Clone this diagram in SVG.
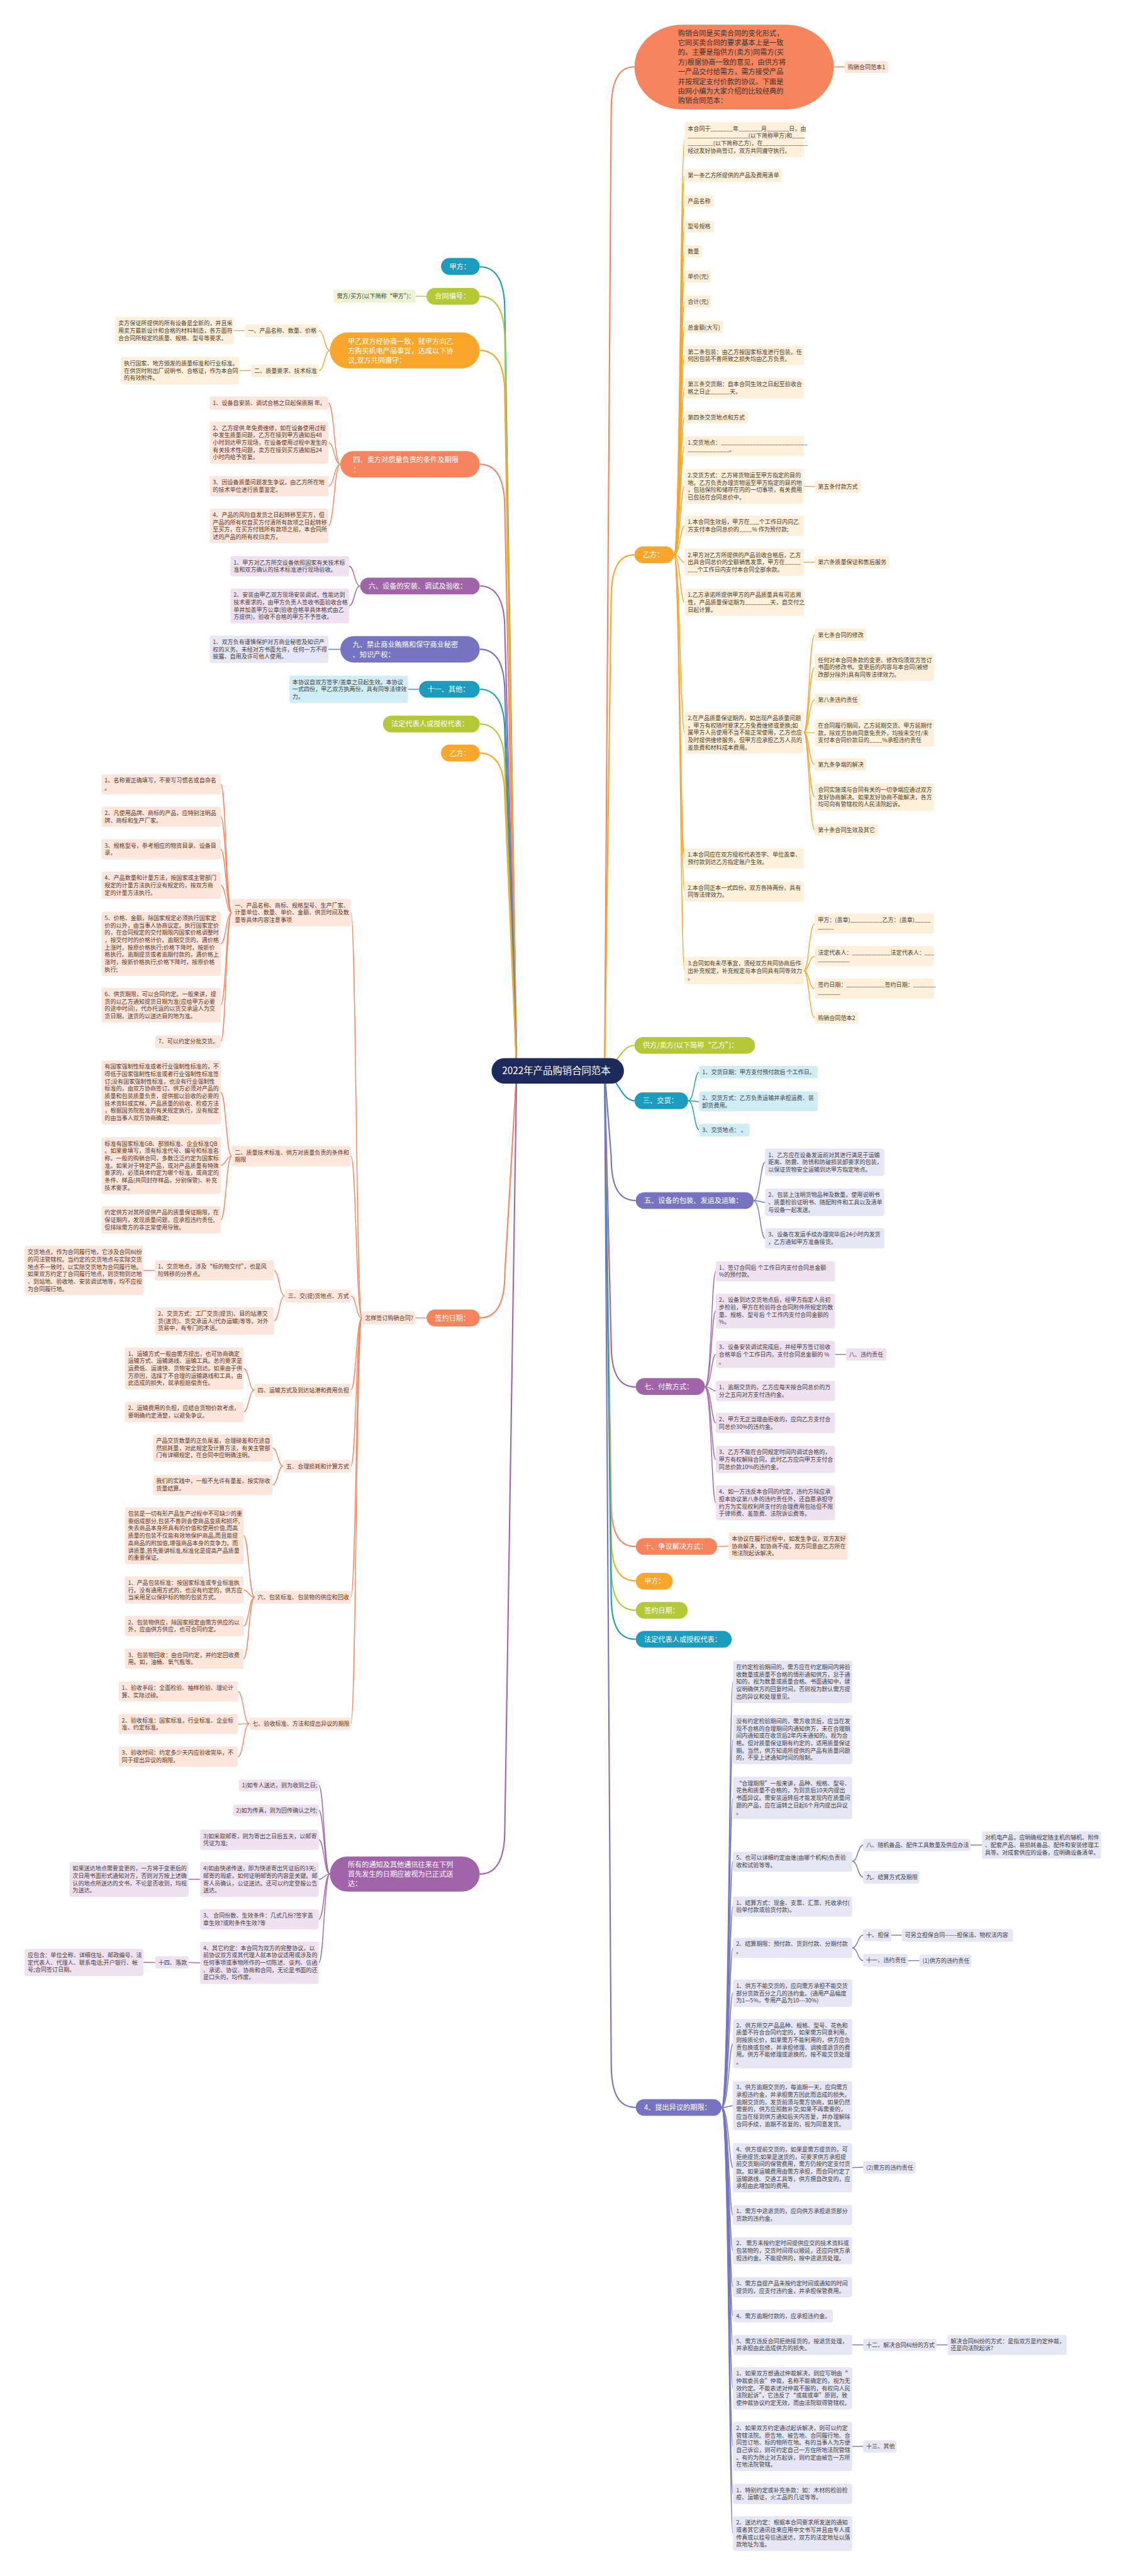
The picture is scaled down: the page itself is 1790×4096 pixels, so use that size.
<svg xmlns="http://www.w3.org/2000/svg" width="1790" height="4096" viewBox="0 0 1790 4096">
<style>
.t{font-family:"Noto Sans CJK SC","Noto Sans",sans-serif;font-size:13px;fill:#3f3f3f}
.tc{fill:#5e3626}
.ta{fill:#4a3d2c}
.h{font-family:"Noto Sans CJK SC","Noto Sans",sans-serif;font-size:16px;fill:#ffffff}
.hd{fill:#333333}
.ctr{font-family:"Noto Sans CJK SC","Noto Sans",sans-serif;font-size:22px;fill:#ffffff}
.ba{fill:#FEF0DA}.bc{fill:#FDE6DC}.bt{fill:#D0EDF5}.bg{fill:#EEF3D4}.bp{fill:#E6E6F5}.bm{fill:#F0E1F0}
.La{fill:#F9A62B}.Lc{fill:#F6845D}.Lt{fill:#1B9CBE}.Lg{fill:#B4C935}.Lp{fill:#7674C0}.Lm{fill:#A064A9}
.conn path{fill:none;stroke-width:2}
.l1 path{stroke-width:3}
.ka{stroke:#F9A62B}.kc{stroke:#F6845D}.kt{stroke:#1B9CBE}.kg{stroke:#B4C935}.kp{stroke:#7674C0}.km{stroke:#A064A9}
</style>
<rect x="0" y="0" width="1790" height="4096" fill="#ffffff"/>
<g transform="scale(0.699)">
<g id="connectors" class="conn">
<g class="l1">
<path class="kc" d="M1443,152 C1405,152 1390,187 1390,252 L1375,2436"/>
<path class="ka" d="M1443,1262 C1405,1262 1390,1297 1390,1362 L1375,2436"/>
<path class="kg" d="M1443,2378 C1410,2378 1400,2436 1370,2436"/>
<path class="kt" d="M1443,2504 C1410,2504 1400,2436 1370,2436"/>
<path class="kp" d="M1446,2731 C1405,2731 1390,2696 1390,2631 L1375,2436"/>
<path class="km" d="M1446,3155 C1405,3155 1390,3120 1390,3055 L1375,2436"/>
<path class="kc" d="M1446,3518 C1405,3518 1390,3483 1390,3418 L1375,2436"/>
<path class="ka" d="M1446,3596 C1405,3596 1390,3561 1390,3496 L1375,2436"/>
<path class="kg" d="M1446,3663 C1405,3663 1390,3628 1390,3563 L1375,2436"/>
<path class="kt" d="M1446,3729 C1405,3729 1390,3694 1390,3629 L1375,2436"/>
<path class="kp" d="M1446,4794 C1405,4794 1390,4759 1390,4694 L1375,2436"/>
<path class="kt" d="M1091,607 C1130,607 1148,642 1148,707 L1175,2436"/>
<path class="kg" d="M1091,674 C1130,674 1148,709 1148,774 L1175,2436"/>
<path class="ka" d="M1091,797 C1130,797 1148,832 1148,897 L1175,2436"/>
<path class="kc" d="M1091,1056 C1130,1056 1148,1091 1148,1156 L1175,2436"/>
<path class="km" d="M1091,1333 C1130,1333 1148,1368 1148,1433 L1175,2436"/>
<path class="kp" d="M1091,1477 C1130,1477 1148,1512 1148,1577 L1175,2436"/>
<path class="kt" d="M1091,1568 C1130,1568 1148,1603 1148,1668 L1175,2436"/>
<path class="kg" d="M1091,1647 C1130,1647 1148,1682 1148,1747 L1175,2436"/>
<path class="ka" d="M1091,1713 C1130,1713 1148,1748 1148,1813 L1175,2436"/>
<path class="kc" d="M1091,2998 C1130,2998 1148,2963 1148,2898 L1175,2436"/>
<path class="km" d="M1091,4263 C1130,4263 1148,4228 1148,4163 L1175,2436"/>
</g>
<path class="kc" d="M1896,152 L1921,152"/>
<g class="ka">
<path d="M1533,1262 C1547,1262 1547,317 1557,317"/>
<path d="M1533,1262 C1547,1262 1547,399 1557,399"/>
<path d="M1533,1262 C1547,1262 1547,457 1557,457"/>
<path d="M1533,1262 C1547,1262 1547,515 1557,515"/>
<path d="M1533,1262 C1547,1262 1547,572 1557,572"/>
<path d="M1533,1262 C1547,1262 1547,629 1557,629"/>
<path d="M1533,1262 C1547,1262 1547,686 1557,686"/>
<path d="M1533,1262 C1547,1262 1547,744 1557,744"/>
<path d="M1533,1262 C1547,1262 1547,808 1557,808"/>
<path d="M1533,1262 C1547,1262 1547,883 1557,883"/>
<path d="M1533,1262 C1547,1262 1547,949 1557,949"/>
<path d="M1533,1262 C1547,1262 1547,1015 1557,1015"/>
<path d="M1533,1262 C1547,1262 1547,1106 1557,1106"/>
<path d="M1533,1262 C1547,1262 1547,1196 1557,1196"/>
<path d="M1533,1262 C1547,1262 1547,1279 1557,1279"/>
<path d="M1533,1262 C1547,1262 1547,1370 1557,1370"/>
<path d="M1533,1262 C1547,1262 1547,1666 1557,1666"/>
<path d="M1533,1262 C1547,1262 1547,1953 1557,1953"/>
<path d="M1533,1262 C1547,1262 1547,2028 1557,2028"/>
<path d="M1533,1262 C1547,1262 1547,2208 1557,2208"/>
<path d="M1828,1106 L1853,1107"/>
<path d="M1828,1279 L1853,1279"/>
<path d="M1828,1666 C1840,1666 1840,1444 1853,1444"/>
<path d="M1828,1666 C1840,1666 1840,1518 1853,1518"/>
<path d="M1828,1666 C1840,1666 1840,1592 1853,1592"/>
<path d="M1828,1666 C1840,1666 1840,1667 1853,1667"/>
<path d="M1828,1666 C1840,1666 1840,1739 1853,1739"/>
<path d="M1828,1666 C1840,1666 1840,1813 1853,1813"/>
<path d="M1828,1666 C1840,1666 1840,1888 1853,1888"/>
<path d="M1828,2208 C1840,2208 1840,2101 1853,2101"/>
<path d="M1828,2208 C1840,2208 1840,2175 1853,2175"/>
<path d="M1828,2208 C1840,2208 1840,2249 1853,2249"/>
<path d="M1828,2208 C1840,2208 1840,2315 1853,2315"/>
<path d="M750,797 C738,797 738,752 725,752"/>
<path d="M750,797 C738,797 738,843 725,843"/>
<path d="M557,752 L532,752"/>
<path d="M571,843 L544,843"/>
</g>
<g class="kt">
<path d="M1565,2504 C1579,2504 1579,2439 1590,2439"/>
<path d="M1565,2504 C1579,2504 1579,2506 1590,2506"/>
<path d="M1565,2504 C1579,2504 1579,2570 1590,2570"/>
<path d="M953,1568 L928,1568"/>
</g>
<g class="kg">
<path d="M970,674 L945,674"/>
</g>
<g class="kp">
<path d="M1714,2731 C1729,2731 1729,2644 1740,2644"/>
<path d="M1714,2731 C1729,2731 1729,2735 1740,2735"/>
<path d="M1714,2731 C1729,2731 1729,2817 1740,2817"/>
<path d="M1641,4794 C1658,4794 1658,3826 1667,3826"/>
<path d="M1641,4794 C1658,4794 1658,3957 1667,3957"/>
<path d="M1641,4794 C1658,4794 1658,4090 1667,4090"/>
<path d="M1641,4794 C1658,4794 1658,4234 1667,4234"/>
<path d="M1641,4794 C1658,4794 1658,4337 1667,4337"/>
<path d="M1641,4794 C1658,4794 1658,4431 1667,4431"/>
<path d="M1641,4794 C1658,4794 1658,4534 1667,4534"/>
<path d="M1641,4794 C1658,4794 1658,4649 1667,4649"/>
<path d="M1641,4794 C1658,4794 1658,4790 1667,4790"/>
<path d="M1641,4794 C1658,4794 1658,4931 1667,4931"/>
<path d="M1641,4794 C1658,4794 1658,5039 1667,5039"/>
<path d="M1641,4794 C1658,4794 1658,5120 1667,5120"/>
<path d="M1641,4794 C1658,4794 1658,5203 1667,5203"/>
<path d="M1641,4794 C1658,4794 1658,5268 1667,5268"/>
<path d="M1641,4794 C1658,4794 1658,5334 1667,5334"/>
<path d="M1641,4794 C1658,4794 1658,5433 1667,5433"/>
<path d="M1641,4794 C1658,4794 1658,5565 1667,5565"/>
<path d="M1641,4794 C1658,4794 1658,5673 1667,5673"/>
<path d="M1641,4794 C1658,4794 1658,5763 1667,5763"/>
<path d="M1938,4234 C1951,4234 1951,4197 1963,4197"/>
<path d="M1938,4234 C1951,4234 1951,4270 1963,4270"/>
<path d="M1938,4431 C1951,4431 1951,4402 1963,4402"/>
<path d="M1938,4431 C1951,4431 1951,4460 1963,4460"/>
<path d="M1938,4931 L1963,4930"/>
<path d="M1938,5334 L1963,5334"/>
<path d="M1938,5565 L1963,5565"/>
<path d="M2207,4197 L2233,4197"/>
<path d="M2027,4402 L2051,4402"/>
<path d="M2065,4460 L2091,4460"/>
<path d="M2130,5334 L2155,5334"/>
<path d="M774,1477 L747,1477"/>
</g>
<g class="km">
<path d="M1603,3155 C1618,3155 1618,2892 1628,2892"/>
<path d="M1603,3155 C1618,3155 1618,2982 1628,2982"/>
<path d="M1603,3155 C1618,3155 1618,3081 1628,3081"/>
<path d="M1603,3155 C1618,3155 1618,3164 1628,3164"/>
<path d="M1603,3155 C1618,3155 1618,3237 1628,3237"/>
<path d="M1603,3155 C1618,3155 1618,3320 1628,3320"/>
<path d="M1603,3155 C1618,3155 1618,3418 1628,3418"/>
<path d="M1899,3081 L1924,3081"/>
<path d="M819,1333 C806,1333 806,1288 794,1288"/>
<path d="M819,1333 C806,1333 806,1378 794,1378"/>
<path d="M750,4263 C737,4263 737,4061 725,4061"/>
<path d="M750,4263 C737,4263 737,4118 725,4118"/>
<path d="M750,4263 C737,4263 737,4185 725,4185"/>
<path d="M750,4263 C737,4263 737,4275 725,4275"/>
<path d="M750,4263 C737,4263 737,4366 725,4366"/>
<path d="M750,4263 C737,4263 737,4465 725,4465"/>
<path d="M455,4275 L429,4275"/>
<path d="M455,4465 L429,4464"/>
<path d="M353,4464 L326,4464"/>
</g>
<g class="kc">
<path d="M1631,3518 L1657,3517"/>
<path d="M774,1056 C760,1056 760,917 747,917"/>
<path d="M774,1056 C760,1056 760,1007 747,1007"/>
<path d="M774,1056 C760,1056 760,1106 747,1106"/>
<path d="M774,1056 C760,1056 760,1196 747,1196"/>
<path d="M970,2998 L944,2998"/>
<path d="M823,2998 C810,2998 810,2076 798,2076"/>
<path d="M823,2998 C810,2998 810,2630 798,2630"/>
<path d="M823,2998 C810,2998 810,2948 798,2948"/>
<path d="M823,2998 C810,2998 810,3162 798,3162"/>
<path d="M823,2998 C810,2998 810,3335 798,3335"/>
<path d="M823,2998 C810,2998 810,3633 798,3633"/>
<path d="M823,2998 C810,2998 810,3921 798,3921"/>
<path d="M527,2076 C514,2076 514,1784 502,1784"/>
<path d="M527,2076 C514,2076 514,1858 502,1858"/>
<path d="M527,2076 C514,2076 514,1932 502,1932"/>
<path d="M527,2076 C514,2076 514,2014 502,2014"/>
<path d="M527,2076 C514,2076 514,2147 502,2147"/>
<path d="M527,2076 C514,2076 514,2286 502,2286"/>
<path d="M527,2076 C514,2076 514,2369 502,2369"/>
<path d="M527,2630 C514,2630 514,2485 502,2485"/>
<path d="M527,2630 C514,2630 514,2651 502,2651"/>
<path d="M527,2630 C514,2630 514,2775 502,2775"/>
<path d="M648,2948 C635,2948 635,2890 623,2890"/>
<path d="M648,2948 C635,2948 635,3005 623,3005"/>
<path d="M352,2890 L326,2890"/>
<path d="M579,3162 C566,3162 566,3113 554,3113"/>
<path d="M579,3162 C566,3162 566,3212 554,3212"/>
<path d="M644,3335 C632,3335 632,3294 620,3294"/>
<path d="M644,3335 C632,3335 632,3378 620,3378"/>
<path d="M579,3633 C566,3633 566,3493 554,3493"/>
<path d="M579,3633 C566,3633 566,3617 554,3617"/>
<path d="M579,3633 C566,3633 566,3699 554,3699"/>
<path d="M579,3633 C566,3633 566,3773 554,3773"/>
<path d="M567,3921 C554,3921 554,3848 541,3848"/>
<path d="M567,3921 C554,3921 554,3922 541,3922"/>
<path d="M567,3921 C554,3921 554,3996 541,3996"/>
</g>
</g>

<g id="center"><rect x="1118" y="2407" width="301" height="58" rx="29" fill="#1F2A5C"/><text class="ctr" x="1142" y="2444">2022年产品购销合同范本</text></g>

<g id="intro"><rect class="Lc" x="1443" y="56" width="453" height="193" rx="110" ry="96"/><text class="h hd" x="1542" y="81"><tspan x="1542">购销合同是买卖合同的变化形式，</tspan><tspan x="1542" dy="22">它同买卖合同的要求基本上是一致</tspan><tspan x="1542" dy="22">的。主要是指供方(卖方)同需方(买</tspan><tspan x="1542" dy="22">方)根据协商一致的意见，由供方将</tspan><tspan x="1542" dy="22">一产品交付给需方，需方接受产品</tspan><tspan x="1542" dy="22">并按规定支付价款的协议。下面是</tspan><tspan x="1542" dy="22">由网小编为大家介绍的比较经典的</tspan><tspan x="1542" dy="22">购销合同范本：</tspan></text></g>
<g id="intro-label"><rect class="bc" x="1921" y="139" width="99" height="27" rx="5"/><text class="t tc" x="1928" y="157">购销合同范本1</text></g>

<g id="r-yifang"><rect class="La" x="1443" y="1243" width="90" height="38" rx="19"/><text class="h" x="1462" y="1268">乙方：</text></g>
<g id="r-c1"><rect class="ba" x="1557" y="278" width="271" height="79" rx="5"/><text class="t ta" x="1564" y="297"><tspan x="1564">本合同于_______年_______月_______日，由</tspan><tspan x="1564" dy="16.7">___________________(以下简称甲方)和____</tspan><tspan x="1564" dy="16.7">________(以下简称乙方)，在______________</tspan><tspan x="1564" dy="16.7">经过友好协商签订，双方共同遵守执行。</tspan></text></g>
<g id="r-c2"><rect class="ba" x="1557" y="385" width="222" height="29" rx="5"/><text class="t ta" x="1564" y="404">第一条乙方所提供的产品及费用清单</text></g>
<g id="r-c3"><rect class="ba" x="1557" y="443" width="66" height="28" rx="5"/><text class="t ta" x="1564" y="462">产品名称</text></g>
<g id="r-c4"><rect class="ba" x="1557" y="501" width="66" height="28" rx="5"/><text class="t ta" x="1564" y="520">型号规格</text></g>
<g id="r-c5"><rect class="ba" x="1557" y="558" width="40" height="28" rx="5"/><text class="t ta" x="1564" y="577">数量</text></g>
<g id="r-c6"><rect class="ba" x="1557" y="615" width="60" height="28" rx="5"/><text class="t ta" x="1564" y="634">单价(元)</text></g>
<g id="r-c7"><rect class="ba" x="1557" y="672" width="60" height="28" rx="5"/><text class="t ta" x="1564" y="691">合计(元)</text></g>
<g id="r-c8"><rect class="ba" x="1557" y="730" width="87" height="28" rx="5"/><text class="t ta" x="1564" y="749">总金额(大写)</text></g>
<g id="r-c9"><rect class="ba" x="1557" y="786" width="271" height="45" rx="5"/><text class="t ta" x="1564" y="805"><tspan x="1564">第二条包装：由乙方按国家标准进行包装。任</tspan><tspan x="1564" dy="16.7">何因包装不善所致之损失均由乙方负责。</tspan></text></g>
<g id="r-c10"><rect class="ba" x="1557" y="860" width="271" height="46" rx="5"/><text class="t ta" x="1564" y="879"><tspan x="1564">第三条交货期：自本合同生效之日起至验收合</tspan><tspan x="1564" dy="16.7">格之日止______天。</tspan></text></g>
<g id="r-c11"><rect class="ba" x="1557" y="935" width="144" height="28" rx="5"/><text class="t ta" x="1564" y="954">第四条交货地点和方式</text></g>
<g id="r-c12"><rect class="ba" x="1557" y="992" width="271" height="46" rx="5"/><text class="t ta" x="1564" y="1011"><tspan x="1564">1.交货地点：___________________________</tspan><tspan x="1564" dy="16.7">_____________。</tspan></text></g>
<g id="r-c13"><rect class="ba" x="1557" y="1067" width="271" height="79" rx="5"/><text class="t ta" x="1564" y="1086"><tspan x="1564">2.交货方式：乙方将货物运至甲方指定的目的</tspan><tspan x="1564" dy="16.7">地。乙方负责办理货物运至甲方指定的目的地</tspan><tspan x="1564" dy="16.7">，包括保险和储存在内的一切事项，有关费用</tspan><tspan x="1564" dy="16.7">已包括在合同总价中。</tspan></text></g>
<g id="r-c13a"><rect class="ba" x="1853" y="1093" width="105" height="28" rx="5"/><text class="t ta" x="1860" y="1112">第五条付款方式</text></g>
<g id="r-c14"><rect class="ba" x="1557" y="1173" width="271" height="46" rx="5"/><text class="t ta" x="1564" y="1192"><tspan x="1564">1.本合同生效后，甲方在___个工作日内向乙</tspan><tspan x="1564" dy="16.7">方支付本合同总价的____% 作为预付款;</tspan></text></g>
<g id="r-c15"><rect class="ba" x="1557" y="1248" width="271" height="62" rx="5"/><text class="t ta" x="1564" y="1267"><tspan x="1564">2.甲方对乙方所提供的产品验收合格后，乙方</tspan><tspan x="1564" dy="16.7">出具合同总价的全额销售发票，甲方在_____</tspan><tspan x="1564" dy="16.7">___个工作日内支付本合同全部余款。</tspan></text></g>
<g id="r-c15a"><rect class="ba" x="1853" y="1264" width="170" height="29" rx="5"/><text class="t ta" x="1860" y="1283">第六条质量保证和售后服务</text></g>
<g id="r-c16"><rect class="ba" x="1557" y="1339" width="271" height="62" rx="5"/><text class="t ta" x="1564" y="1358"><tspan x="1564">1.乙方承诺所提供甲方的产品质量具有可追溯</tspan><tspan x="1564" dy="16.7">性，产品质量保证期为________天，自交付之</tspan><tspan x="1564" dy="16.7">日起计算。</tspan></text></g>
<g id="r-c17"><rect class="ba" x="1557" y="1619" width="271" height="95" rx="5"/><text class="t ta" x="1564" y="1638"><tspan x="1564">2.在产品质量保证期内，如出现产品质量问题</tspan><tspan x="1564" dy="16.7">，甲方有权随时要求乙方免费维修或更换;如</tspan><tspan x="1564" dy="16.7">属甲方人员使用不当不能正常使用，乙方也应</tspan><tspan x="1564" dy="16.7">及时提供维修服务，但甲方应承担乙方人员的</tspan><tspan x="1564" dy="16.7">差旅费和材料成本费用。</tspan></text></g>
<g id="r-d1"><rect class="ba" x="1853" y="1430" width="118" height="28" rx="5"/><text class="t ta" x="1860" y="1449">第七条合同的修改</text></g>
<g id="r-d2"><rect class="ba" x="1853" y="1487" width="271" height="62" rx="5"/><text class="t ta" x="1860" y="1506"><tspan x="1860">任何对本合同条款的变更、修改均须双方签订</tspan><tspan x="1860" dy="16.7">书面的修改书。变更后的内容与本合同(被修</tspan><tspan x="1860" dy="16.7">改部分除外)具有同等法律效力。</tspan></text></g>
<g id="r-d3"><rect class="ba" x="1853" y="1578" width="105" height="28" rx="5"/><text class="t ta" x="1860" y="1597">第八条违约责任</text></g>
<g id="r-d4"><rect class="ba" x="1853" y="1636" width="271" height="62" rx="5"/><text class="t ta" x="1860" y="1655"><tspan x="1860">在合同履行期间，乙方延期交货、甲方延期付</tspan><tspan x="1860" dy="16.7">款，除双方协商同意免责外，均按未交付/未</tspan><tspan x="1860" dy="16.7">支付本合同价款日的____%承担违约责任</tspan></text></g>
<g id="r-d5"><rect class="ba" x="1853" y="1725" width="118" height="28" rx="5"/><text class="t ta" x="1860" y="1744">第九条争端的解决</text></g>
<g id="r-d6"><rect class="ba" x="1853" y="1782" width="271" height="62" rx="5"/><text class="t ta" x="1860" y="1801"><tspan x="1860">合同实施或与合同有关的一切争端应通过双方</tspan><tspan x="1860" dy="16.7">友好协商解决。如果友好协商不能解决，各方</tspan><tspan x="1860" dy="16.7">均可向有管辖权的人民法院起诉。</tspan></text></g>
<g id="r-d7"><rect class="ba" x="1853" y="1874" width="144" height="28" rx="5"/><text class="t ta" x="1860" y="1893">第十条合同生效及其它</text></g>
<g id="r-c18"><rect class="ba" x="1557" y="1930" width="271" height="46" rx="5"/><text class="t ta" x="1564" y="1949"><tspan x="1564">1.本合同应在双方授权代表签字、单位盖章、</tspan><tspan x="1564" dy="16.7">预付款到达乙方指定账户生效。</tspan></text></g>
<g id="r-c19"><rect class="ba" x="1557" y="2005" width="271" height="46" rx="5"/><text class="t ta" x="1564" y="2024"><tspan x="1564">2.本合同正本一式四份，双方各持两份，具有</tspan><tspan x="1564" dy="16.7">同等法律效力。</tspan></text></g>
<g id="r-c20"><rect class="ba" x="1557" y="2177" width="271" height="62" rx="5"/><text class="t ta" x="1564" y="2196"><tspan x="1564">3.合同如有未尽事宜，须经双方共同协商后作</tspan><tspan x="1564" dy="16.7">出补充规定，补充规定与本合同具有同等效力</tspan><tspan x="1564" dy="16.7">。</tspan></text></g>
<g id="r-e1"><rect class="ba" x="1853" y="2078" width="271" height="46" rx="5"/><text class="t ta" x="1860" y="2097"><tspan x="1860">甲方：(盖章)__________乙方：(盖章)_____</tspan><tspan x="1860" dy="16.7">_____</tspan></text></g>
<g id="r-e2"><rect class="ba" x="1853" y="2152" width="271" height="46" rx="5"/><text class="t ta" x="1860" y="2171"><tspan x="1860">法定代表人：____________法定代表人：___</tspan><tspan x="1860" dy="16.7">__________</tspan></text></g>
<g id="r-e3"><rect class="ba" x="1853" y="2226" width="271" height="46" rx="5"/><text class="t ta" x="1860" y="2245"><tspan x="1860">签约日期：____________签约日期：_______</tspan><tspan x="1860" dy="16.7">_______</tspan></text></g>
<g id="r-e4"><rect class="ba" x="1853" y="2301" width="99" height="28" rx="5"/><text class="t ta" x="1860" y="2320">购销合同范本2</text></g>

<g id="r-gongfang"><rect class="Lg" x="1443" y="2359" width="274" height="38" rx="19"/><text class="h" x="1462" y="2384">供方/卖方(以下简称“乙方”)：</text></g>
<g id="r-jiaohuo"><rect class="Lt" x="1443" y="2485" width="122" height="38" rx="19"/><text class="h" x="1462" y="2510">三、交货：</text></g>
<g id="r-f1"><rect class="bt" x="1590" y="2425" width="270" height="28" rx="5"/><text class="t" x="1597" y="2444">1、交货日期：甲方支付预付款后 个工作日。</text></g>
<g id="r-f2"><rect class="bt" x="1590" y="2483" width="270" height="45" rx="5"/><text class="t" x="1597" y="2502"><tspan x="1597">2、交货方式：乙方负责运输并承担运费、装</tspan><tspan x="1597" dy="16.7">卸货费用。</tspan></text></g>
<g id="r-f3"><rect class="bt" x="1590" y="2556" width="115" height="29" rx="5"/><text class="t" x="1597" y="2575">3、交货地点： 。</text></g>

<g id="r-baozhuang"><rect class="Lp" x="1446" y="2712" width="268" height="38" rx="19"/><text class="h" x="1465" y="2737">五、设备的包装、发运及运输：</text></g>
<g id="r-g1"><rect class="bp" x="1740" y="2613" width="271" height="62" rx="5"/><text class="t" x="1747" y="2632"><tspan x="1747">1、乙方应在设备发运前对其进行满足于运输</tspan><tspan x="1747" dy="16.7">距离、防震、防锈和防破损装卸要求的包装，</tspan><tspan x="1747" dy="16.7">以保证货物安全运输到达甲方指定地点。</tspan></text></g>
<g id="r-g2"><rect class="bp" x="1740" y="2704" width="271" height="62" rx="5"/><text class="t" x="1747" y="2723"><tspan x="1747">2、包装上注明货物品种及数量。使用说明书</tspan><tspan x="1747" dy="16.7">、质量检验证明书、随配附件和工具以及清单</tspan><tspan x="1747" dy="16.7">与设备一起发送。</tspan></text></g>
<g id="r-g3"><rect class="bp" x="1740" y="2794" width="271" height="46" rx="5"/><text class="t" x="1747" y="2813"><tspan x="1747">3、设备在发运手续办理完毕后24小时内发货</tspan><tspan x="1747" dy="16.7">，乙方通知甲方准备接货。</tspan></text></g>

<g id="r-fukuan"><rect class="Lm" x="1446" y="3135" width="157" height="38" rx="19"/><text class="h" x="1465" y="3160">七、付款方式：</text></g>
<g id="r-h1"><rect class="bm" x="1628" y="2869" width="271" height="46" rx="5"/><text class="t" x="1635" y="2888"><tspan x="1635">1、签订合同后 个工作日内支付合同总金额</tspan><tspan x="1635" dy="16.7">%的预付款。</tspan></text></g>
<g id="r-h2"><rect class="bm" x="1628" y="2943" width="271" height="79" rx="5"/><text class="t" x="1635" y="2962"><tspan x="1635">2、设备到达交货地点后，经甲方指定人员初</tspan><tspan x="1635" dy="16.7">步检验，甲方在检验符合合同附件所规定的数</tspan><tspan x="1635" dy="16.7">量、规格、型号后 个工作内支付合同金额的</tspan><tspan x="1635" dy="16.7">%。</tspan></text></g>
<g id="r-h3"><rect class="bm" x="1628" y="3050" width="271" height="62" rx="5"/><text class="t" x="1635" y="3069"><tspan x="1635">3、设备安装调试完成后，并经甲方签订验收</tspan><tspan x="1635" dy="16.7">合格单后 个工作日内，支付合同总金额的 %</tspan><tspan x="1635" dy="16.7">。</tspan></text></g>
<g id="r-h3a"><rect class="bm" x="1924" y="3067" width="92" height="28" rx="5"/><text class="t" x="1931" y="3086">八、违约责任</text></g>
<g id="r-h4"><rect class="bm" x="1628" y="3141" width="271" height="46" rx="5"/><text class="t" x="1635" y="3160"><tspan x="1635">1、逾期交货的，乙方应每天按合同总价的万</tspan><tspan x="1635" dy="16.7">分之五向对方支付违约金。</tspan></text></g>
<g id="r-h5"><rect class="bm" x="1628" y="3214" width="271" height="46" rx="5"/><text class="t" x="1635" y="3233"><tspan x="1635">2、甲方无正当理由拒收的，应向乙方支付合</tspan><tspan x="1635" dy="16.7">同总价30%的违约金。</tspan></text></g>
<g id="r-h6"><rect class="bm" x="1628" y="3289" width="271" height="62" rx="5"/><text class="t" x="1635" y="3308"><tspan x="1635">3、乙方不能在合同规定时间内调试合格的，</tspan><tspan x="1635" dy="16.7">甲方有权解除合同，此时乙方应向甲方支付合</tspan><tspan x="1635" dy="16.7">同总价款10%的违约金。</tspan></text></g>
<g id="r-h7"><rect class="bm" x="1628" y="3379" width="271" height="79" rx="5"/><text class="t" x="1635" y="3398"><tspan x="1635">4、如一方违反本合同的约定，违约方除应承</tspan><tspan x="1635" dy="16.7">担本协议第八条的违约责任外，还自愿承担守</tspan><tspan x="1635" dy="16.7">约方为实现权利所支付的合理费用包括但不限</tspan><tspan x="1635" dy="16.7">于律师费、差旅费、法院诉讼费等。</tspan></text></g>

<g id="r-zhengyi"><rect class="Lc" x="1446" y="3499" width="185" height="38" rx="19"/><text class="h" x="1465" y="3524">十、争议解决方式：</text></g>
<g id="r-zhengyi-c"><rect class="bc" x="1657" y="3486" width="271" height="62" rx="5"/><text class="t tc" x="1664" y="3505"><tspan x="1664">本协议在履行过程中，如发生争议，双方友好</tspan><tspan x="1664" dy="16.7">协商解决，如协商不成，双方同意由乙方所在</tspan><tspan x="1664" dy="16.7">地法院起诉解决。</tspan></text></g>
<g id="r-jiafang"><rect class="La" x="1446" y="3578" width="84" height="38" rx="19"/><text class="h" x="1465" y="3603">甲方：</text></g>
<g id="r-qianyue"><rect class="Lg" x="1446" y="3644" width="118" height="38" rx="19"/><text class="h" x="1465" y="3669">签约日期：</text></g>
<g id="r-fading"><rect class="Lt" x="1446" y="3710" width="218" height="38" rx="19"/><text class="h" x="1465" y="3735">法定代表人或授权代表：</text></g>

<g id="r-yiyi"><rect class="Lp" x="1446" y="4775" width="195" height="38" rx="19"/><text class="h" x="1465" y="4800">4、提出异议的期限：</text></g>
<g id="r-i1"><rect class="bp" x="1667" y="3778" width="271" height="96" rx="5"/><text class="t" x="1674" y="3797"><tspan x="1674">在约定检验期间的，需方应在约定期间内将验</tspan><tspan x="1674" dy="16.7">收数量或质量不合格的情形通知供方，怠于通</tspan><tspan x="1674" dy="16.7">知的，视为数量或质量合格。书面通知中，建</tspan><tspan x="1674" dy="16.7">议明确供方的回复时间，否则视为默认需方提</tspan><tspan x="1674" dy="16.7">出的异议和处理意见。</tspan></text></g>
<g id="r-i2"><rect class="bp" x="1667" y="3901" width="271" height="112" rx="5"/><text class="t" x="1674" y="3920"><tspan x="1674">没有约定检验期间的，需方收货后，应当在发</tspan><tspan x="1674" dy="16.7">现不合格的合理期间内通知供方，未在合理期</tspan><tspan x="1674" dy="16.7">间内通知或在收货后2年内未通知的，视为合</tspan><tspan x="1674" dy="16.7">格。但对质量保证期有约定的，适用质量保证</tspan><tspan x="1674" dy="16.7">期。当然，供方知道所提供的产品有质量问题</tspan><tspan x="1674" dy="16.7">的，不受上述通知时间的限制。</tspan></text></g>
<g id="r-i3"><rect class="bp" x="1667" y="4042" width="271" height="96" rx="5"/><text class="t" x="1674" y="4061"><tspan x="1674">“合理期限”一般来讲，品种、规格、型号、</tspan><tspan x="1674" dy="16.7">花色和质量不合格的，为到货后10天内提出</tspan><tspan x="1674" dy="16.7">书面异议。需安装运转后才能发现内在质量问</tspan><tspan x="1674" dy="16.7">题的产品，应在运转之日起6个月内提出异议</tspan><tspan x="1674" dy="16.7">。</tspan></text></g>
<g id="r-i4"><rect class="bp" x="1667" y="4212" width="271" height="46" rx="5"/><text class="t" x="1674" y="4231"><tspan x="1674">5、也可以详细约定由谁(由哪个机构)负责验</tspan><tspan x="1674" dy="16.7">收和试验等等。</tspan></text></g>
<g id="r-ia"><rect class="bp" x="1963" y="4183" width="244" height="28" rx="5"/><text class="t" x="1970" y="4202">八、随机备品、配件工具数量及供应办法</text></g>
<g id="r-ia1"><rect class="bp" x="2233" y="4166" width="271" height="62" rx="5"/><text class="t" x="2240" y="4185"><tspan x="2240">对机电产品，应明确规定随主机的辅机、附件</tspan><tspan x="2240" dy="16.7">、配套产品、易损耗备品、配件和安装修理工</tspan><tspan x="2240" dy="16.7">具等。对成套供应的设备，应明确设备清单。</tspan></text></g>
<g id="r-ib"><rect class="bp" x="1963" y="4256" width="128" height="29" rx="5"/><text class="t" x="1970" y="4275">九、结算方式及期限</text></g>
<g id="r-i5"><rect class="bp" x="1667" y="4314" width="271" height="46" rx="5"/><text class="t" x="1674" y="4333"><tspan x="1674">1、结算方式：现金、支票、汇票、托收承付(</tspan><tspan x="1674" dy="16.7">验单付款或验货付款)。</tspan></text></g>
<g id="r-i6"><rect class="bp" x="1667" y="4408" width="271" height="46" rx="5"/><text class="t" x="1674" y="4427"><tspan x="1674">2、结算期限：预付款、货到付款、分期付款</tspan><tspan x="1674" dy="16.7">。</tspan></text></g>
<g id="r-ic"><rect class="bp" x="1963" y="4388" width="64" height="28" rx="5"/><text class="t" x="1970" y="4407">十、担保</text></g>
<g id="r-ic1"><rect class="bp" x="2051" y="4388" width="253" height="29" rx="5"/><text class="t" x="2058" y="4407">可另立担保合同------担保法、物权法内容</text></g>
<g id="r-id"><rect class="bp" x="1963" y="4445" width="102" height="29" rx="5"/><text class="t" x="1970" y="4464">十一、违约责任</text></g>
<g id="r-id1"><rect class="bp" x="2091" y="4446" width="118" height="28" rx="5"/><text class="t" x="2098" y="4465">(1)供方的违约责任</text></g>
<g id="r-i7"><rect class="bp" x="1667" y="4503" width="271" height="62" rx="5"/><text class="t" x="1674" y="4522"><tspan x="1674">1、供方不能交货的，应向需方承担不能交货</tspan><tspan x="1674" dy="16.7">部分货款百分之几的违约金。(通用产品幅度</tspan><tspan x="1674" dy="16.7">为1—5%，专用产品为10---30%)</tspan></text></g>
<g id="r-i8"><rect class="bp" x="1667" y="4593" width="271" height="112" rx="5"/><text class="t" x="1674" y="4612"><tspan x="1674">2、供方所交产品品种、规格、型号、花色和</tspan><tspan x="1674" dy="16.7">质量不符合合同约定的，如果需方同意利用，</tspan><tspan x="1674" dy="16.7">则按质论价，如果需方不能利用的，供方应负</tspan><tspan x="1674" dy="16.7">责包换或包修，并承担修理、调换或退货的费</tspan><tspan x="1674" dy="16.7">用。供方不能修理或退换的，按不能交货处理</tspan><tspan x="1674" dy="16.7">。</tspan></text></g>
<g id="r-i9"><rect class="bp" x="1667" y="4734" width="271" height="112" rx="5"/><text class="t" x="1674" y="4753"><tspan x="1674">3、供方逾期交货的，每逾期一天，应向需方</tspan><tspan x="1674" dy="16.7">承担违约金，并承担需方因此而造成的损失。</tspan><tspan x="1674" dy="16.7">逾期交货的，发货前须与需方协商，如果仍然</tspan><tspan x="1674" dy="16.7">需要的，供方应照数补交;如果不再需要的，</tspan><tspan x="1674" dy="16.7">应当在接到供方通知后天内答复，并办理解除</tspan><tspan x="1674" dy="16.7">合同手续，逾期不答复的，视为同意发货。</tspan></text></g>
<g id="r-i10"><rect class="bp" x="1667" y="4875" width="271" height="112" rx="5"/><text class="t" x="1674" y="4894"><tspan x="1674">4、供方提前交货的，如果是需方提货的，可</tspan><tspan x="1674" dy="16.7">拒绝提货;如果是送货的，可要求供方承担提</tspan><tspan x="1674" dy="16.7">前交货期间的保管费用，需方仍按约定支付货</tspan><tspan x="1674" dy="16.7">款。如果运输费用由需方承担，而合同约定了</tspan><tspan x="1674" dy="16.7">运输路线、交通工具等，供方擅自改变的，应</tspan><tspan x="1674" dy="16.7">承担由此增加的费用。</tspan></text></g>
<g id="r-ie"><rect class="bp" x="1963" y="4916" width="119" height="29" rx="5"/><text class="t" x="1970" y="4935">(2)需方的违约责任</text></g>
<g id="r-i11"><rect class="bp" x="1667" y="5016" width="271" height="46" rx="5"/><text class="t" x="1674" y="5035"><tspan x="1674">1、需方中途退货的，应向供方承担退货部分</tspan><tspan x="1674" dy="16.7">货款的违约金。</tspan></text></g>
<g id="r-i12"><rect class="bp" x="1667" y="5089" width="271" height="62" rx="5"/><text class="t" x="1674" y="5108"><tspan x="1674">2、 需方未按约定时间提供应交的技术资料或</tspan><tspan x="1674" dy="16.7">包装物的，交货时间得以顺延，还应向供方承</tspan><tspan x="1674" dy="16.7">担违约金。不能提供的，按中途退货处理。</tspan></text></g>
<g id="r-i13"><rect class="bp" x="1667" y="5180" width="271" height="46" rx="5"/><text class="t" x="1674" y="5199"><tspan x="1674">3、需方自提产品未按约定时间或通知的时间</tspan><tspan x="1674" dy="16.7">提货的，应支付违约金，并承担保管费用。</tspan></text></g>
<g id="r-i14"><rect class="bp" x="1667" y="5254" width="227" height="29" rx="5"/><text class="t" x="1674" y="5273">4、需方逾期付款的，应承担违约金。</text></g>
<g id="r-i15"><rect class="bp" x="1667" y="5311" width="271" height="46" rx="5"/><text class="t" x="1674" y="5330"><tspan x="1674">5、需方违反合同拒绝接货的，按退货处理，</tspan><tspan x="1674" dy="16.7">并承担由此造成供方的损失。</tspan></text></g>
<g id="r-if"><rect class="bp" x="1963" y="5320" width="167" height="28" rx="5"/><text class="t" x="1970" y="5339">十二、解决合同纠纷的方式</text></g>
<g id="r-if1"><rect class="bp" x="2155" y="5311" width="271" height="46" rx="5"/><text class="t" x="2162" y="5330"><tspan x="2162">解决合同纠纷的方式：是指双方是约定仲裁，</tspan><tspan x="2162" dy="16.7">还是向法院起诉?</tspan></text></g>
<g id="r-i16"><rect class="bp" x="1667" y="5385" width="271" height="96" rx="5"/><text class="t" x="1674" y="5404"><tspan x="1674">1、如果双方想通过仲裁解决，则应写明由“</tspan><tspan x="1674" dy="16.7">仲裁委员会”仲裁，名称不能确定的，视为无</tspan><tspan x="1674" dy="16.7">效约定。不能表述对仲裁不服的，有权向人民</tspan><tspan x="1674" dy="16.7">法院起诉”，它违反了“或裁或审”原则，致</tspan><tspan x="1674" dy="16.7">使仲裁协议约定无效，而由法院取得管辖权。</tspan></text></g>
<g id="r-i17"><rect class="bp" x="1667" y="5509" width="271" height="112" rx="5"/><text class="t" x="1674" y="5528"><tspan x="1674">2、如果双方约定通过起诉解决，则可以约定</tspan><tspan x="1674" dy="16.7">管辖法院。原告地、被告地、合同履行地、合</tspan><tspan x="1674" dy="16.7">同签订地、标的物所在地。有的当事人为方便</tspan><tspan x="1674" dy="16.7">自己诉讼，则可约定自己一方住所地法院管辖</tspan><tspan x="1674" dy="16.7">。有的为防止对方起诉，则约定由被告一方所</tspan><tspan x="1674" dy="16.7">在地法院管辖。</tspan></text></g>
<g id="r-ig"><rect class="bp" x="1963" y="5551" width="76" height="28" rx="5"/><text class="t" x="1970" y="5570">十三、其他</text></g>
<g id="r-i18"><rect class="bp" x="1667" y="5650" width="271" height="46" rx="5"/><text class="t" x="1674" y="5669"><tspan x="1674">1、特别约定或补充条款：如：木材的检验检</tspan><tspan x="1674" dy="16.7">疫、运输证，火工品的几证等等。</tspan></text></g>
<g id="r-i19"><rect class="bp" x="1667" y="5724" width="271" height="79" rx="5"/><text class="t" x="1674" y="5743"><tspan x="1674">2、送达约定：根据本合同要求所发送的通知</tspan><tspan x="1674" dy="16.7">或者其它通讯往来应用中文书写并且由专人或</tspan><tspan x="1674" dy="16.7">传真或以挂号信函送达，双方的法定地址以落</tspan><tspan x="1674" dy="16.7">款地址为准。</tspan></text></g>

<g id="l-jiafang"><rect class="Lt" x="1003" y="587" width="88" height="38" rx="19"/><text class="h" x="1022" y="612">甲方：</text></g>
<g id="l-hetong"><rect class="Lg" x="970" y="655" width="121" height="38" rx="19"/><text class="h" x="989" y="680">合同编号：</text></g>
<g id="l-hetong-c"><rect class="bg" x="759" y="659" width="186" height="29" rx="5"/><text class="t" x="766" y="678">需方/买方(以下简称“甲方”)：</text></g>
<g id="l-xieyi"><rect class="La" x="750" y="756" width="341" height="82" rx="41"/><text class="h" x="791" y="782"><tspan x="791">甲乙双方经协商一致，就甲方向乙</tspan><tspan x="791" dy="22">方购买机电产品事宜，达成以下协</tspan><tspan x="791" dy="22">议,双方共同遵守：</tspan></text></g>
<g id="l-x1"><rect class="ba" x="557" y="738" width="168" height="29" rx="5"/><text class="t ta" x="564" y="757">一、产品名称、数量、价格</text></g>
<g id="l-x1a"><rect class="ba" x="262" y="721" width="270" height="62" rx="5"/><text class="t ta" x="269" y="740"><tspan x="269">卖方保证所提供的所有设备是全新的，并且采</tspan><tspan x="269" dy="16.7">用卖方最新设计和合格的材料制造，各方面符</tspan><tspan x="269" dy="16.7">合合同所规定的质量、规格、型号等要求。</tspan></text></g>
<g id="l-x2"><rect class="ba" x="571" y="829" width="154" height="29" rx="5"/><text class="t ta" x="578" y="848">二、质量要求、技术标准</text></g>
<g id="l-x2a"><rect class="ba" x="275" y="812" width="269" height="62" rx="5"/><text class="t ta" x="282" y="831"><tspan x="282">执行国家、地方颁发的质量标准和行业标准。</tspan><tspan x="282" dy="16.7">在供货时附出厂说明书、合格证，作为本合同</tspan><tspan x="282" dy="16.7">的有效附件。</tspan></text></g>

<g id="l-zhiliang"><rect class="Lc" x="774" y="1026" width="317" height="60" rx="30"/><text class="h" x="803" y="1051"><tspan x="803">四、卖方对质量负责的条件及期限</tspan><tspan x="803" dy="23">：</tspan></text></g>
<g id="l-j1"><rect class="bc" x="477" y="902" width="270" height="30" rx="5"/><text class="t tc" x="484" y="921.5">1、设备自安装、调试合格之日起保质期 年。</text></g>
<g id="l-j2"><rect class="bc" x="477" y="959" width="270" height="96" rx="5"/><text class="t tc" x="484" y="978"><tspan x="484">2、乙方提供 年免费维修，如在设备使用过程</tspan><tspan x="484" dy="16.7">中发生质量问题，乙方在接到甲方通知后48</tspan><tspan x="484" dy="16.7">小时到达甲方现场，在设备使用过程中发生的</tspan><tspan x="484" dy="16.7">有关技术性问题，卖方在接到买方通知后24</tspan><tspan x="484" dy="16.7">小时内给予答复。</tspan></text></g>
<g id="l-j3"><rect class="bc" x="477" y="1083" width="270" height="46" rx="5"/><text class="t tc" x="484" y="1102"><tspan x="484">3、因设备质量问题发生争议，由乙方所在地</tspan><tspan x="484" dy="16.7">的技术单位进行质量鉴定。</tspan></text></g>
<g id="l-j4"><rect class="bc" x="477" y="1157" width="270" height="79" rx="5"/><text class="t tc" x="484" y="1176"><tspan x="484">4、产品的风险自发货之日起转移至买方，但</tspan><tspan x="484" dy="16.7">产品的所有权自买方付清所有款项之日起转移</tspan><tspan x="484" dy="16.7">至买方，在买方付钱所有款项之前，本合同所</tspan><tspan x="484" dy="16.7">述的产品的所有权归卖方。</tspan></text></g>

<g id="l-anzhuang"><rect class="Lm" x="819" y="1314" width="272" height="38" rx="19"/><text class="h" x="838" y="1339">六、设备的安装、调试及验收：</text></g>
<g id="l-k1"><rect class="bm" x="524" y="1265" width="270" height="46" rx="5"/><text class="t" x="531" y="1284"><tspan x="531">1、甲方对乙方所交设备依照国家有关技术标</tspan><tspan x="531" dy="16.7">准和双方确认的技术标准进行现场验收。</tspan></text></g>
<g id="l-k2"><rect class="bm" x="524" y="1339" width="270" height="79" rx="5"/><text class="t" x="531" y="1358"><tspan x="531">2、安装由甲乙双方现场安装调试，性能达到</tspan><tspan x="531" dy="16.7">技术要求的，由甲方负责人签收书面验收合格</tspan><tspan x="531" dy="16.7">单并加盖甲方公章(验收合格单具体格式由乙</tspan><tspan x="531" dy="16.7">方提供)，验收不合格的甲方不予签收。</tspan></text></g>

<g id="l-mimi"><rect class="Lp" x="774" y="1447" width="317" height="60" rx="30"/><text class="h" x="802" y="1472"><tspan x="802">九、禁止商业贿赂和保守商业秘密</tspan><tspan x="802" dy="23">、知识产权：</tspan></text></g>
<g id="l-mimi-c"><rect class="bp" x="477" y="1446" width="270" height="62" rx="5"/><text class="t" x="484" y="1465"><tspan x="484">1、双方负有谨慎保护对方商业秘密及知识产</tspan><tspan x="484" dy="16.7">权的义务。未经对方书面允许，任何一方不得</tspan><tspan x="484" dy="16.7">披露、自用及许可他人使用。</tspan></text></g>
<g id="l-qita"><rect class="Lt" x="953" y="1549" width="138" height="38" rx="19"/><text class="h" x="972" y="1574">十一、其他：</text></g>
<g id="l-qita-c"><rect class="bt" x="658" y="1537" width="270" height="62" rx="5"/><text class="t" x="665" y="1556"><tspan x="665">本协议自双方签字/盖章之日起生效。本协议</tspan><tspan x="665" dy="16.7">一式四份，甲乙双方执两份，具有同等法律效</tspan><tspan x="665" dy="16.7">力。</tspan></text></g>
<g id="l-fading"><rect class="Lg" x="871" y="1628" width="220" height="38" rx="19"/><text class="h" x="890" y="1653">法定代表人或授权代表：</text></g>
<g id="l-yifang"><rect class="La" x="1003" y="1694" width="88" height="38" rx="19"/><text class="h" x="1022" y="1719">乙方：</text></g>

<g id="l-qianyue"><rect class="Lc" x="970" y="2979" width="121" height="38" rx="19"/><text class="h" x="989" y="3004">签约日期：</text></g>
<g id="l-how"><rect class="bc" x="823" y="2983" width="121" height="30" rx="5"/><text class="t tc" x="830" y="3003">怎样签订购销合同?</text></g>
<g id="l-L1"><rect class="bc" x="527" y="2045" width="271" height="62" rx="5"/><text class="t tc" x="534" y="2064"><tspan x="534">一、产品名称、商标、规格型号、生产厂家、</tspan><tspan x="534" dy="16.7">计量单位、数量、单价、金额、供货时间及数</tspan><tspan x="534" dy="16.7">量等具体内容注意事项</tspan></text></g>
<g id="l-m1"><rect class="bc" x="231" y="1761" width="271" height="46" rx="5"/><text class="t tc" x="238" y="1780"><tspan x="238">1、名称要正确填写，不要写习惯名或自命名</tspan><tspan x="238" dy="16.7">。</tspan></text></g>
<g id="l-m2"><rect class="bc" x="231" y="1835" width="271" height="46" rx="5"/><text class="t tc" x="238" y="1854"><tspan x="238">2、凡使用品牌、商标的产品，应特别注明品</tspan><tspan x="238" dy="16.7">牌、商标和生产厂家。</tspan></text></g>
<g id="l-m3"><rect class="bc" x="231" y="1909" width="271" height="46" rx="5"/><text class="t tc" x="238" y="1928"><tspan x="238">3、规格型号，参考相应的物资目录、设备目</tspan><tspan x="238" dy="16.7">录。</tspan></text></g>
<g id="l-m4"><rect class="bc" x="231" y="1983" width="271" height="62" rx="5"/><text class="t tc" x="238" y="2002"><tspan x="238">4、产品数量和计量方法，按国家或主管部门</tspan><tspan x="238" dy="16.7">规定的计量方法执行没有规定的，按双方商</tspan><tspan x="238" dy="16.7">定的计量方法执行。</tspan></text></g>
<g id="l-m5"><rect class="bc" x="231" y="2074" width="271" height="146" rx="5"/><text class="t tc" x="238" y="2093"><tspan x="238">5、价格、金额，除国家规定必须执行国家定</tspan><tspan x="238" dy="16.7">价的以外，由当事人协商议定。执行国家定价</tspan><tspan x="238" dy="16.7">的，在合同规定的交付期限内国家价格调整时</tspan><tspan x="238" dy="16.7">，按交付时的价格计价。逾期交货的，遇价格</tspan><tspan x="238" dy="16.7">上涨时，按原价格执行;价格下降时，按新价</tspan><tspan x="238" dy="16.7">格执行。逾期提货或者逾期付款的，遇价格上</tspan><tspan x="238" dy="16.7">涨时，按新价格执行;价格下降时，按原价格</tspan><tspan x="238" dy="16.7">执行;</tspan></text></g>
<g id="l-m6"><rect class="bc" x="231" y="2247" width="271" height="79" rx="5"/><text class="t tc" x="238" y="2266"><tspan x="238">6、供货期限，可以合同约定。一般来讲，提</tspan><tspan x="238" dy="16.7">货的以乙方通知提货日期为准(应给甲方必要</tspan><tspan x="238" dy="16.7">的途中时间)，代办托运的以货交承运人为交</tspan><tspan x="238" dy="16.7">货日期，送货的以送达目的地为准。</tspan></text></g>
<g id="l-m7"><rect class="bc" x="353" y="2355" width="149" height="29" rx="5"/><text class="t tc" x="360" y="2374">7、可以约定分批交货。</text></g>
<g id="l-L2"><rect class="bc" x="527" y="2607" width="271" height="46" rx="5"/><text class="t tc" x="534" y="2626"><tspan x="534">二、质量技术标准、供方对质量负责的条件和</tspan><tspan x="534" dy="16.7">期限</tspan></text></g>
<g id="l-n1"><rect class="bc" x="231" y="2412" width="271" height="146" rx="5"/><text class="t tc" x="238" y="2431"><tspan x="238">有国家强制性标准或者行业强制性标准的，不</tspan><tspan x="238" dy="16.7">得低于国家强制性标准或者行业强制性标准签</tspan><tspan x="238" dy="16.7">订;没有国家强制性标准，也没有行业强制性</tspan><tspan x="238" dy="16.7">标准的，由双方协商签订。供方必须对产品的</tspan><tspan x="238" dy="16.7">质量和包装质量负责，提供据以验收的必要的</tspan><tspan x="238" dy="16.7">技术资料或实样。产品质量的验收、检疫方法</tspan><tspan x="238" dy="16.7">，根据国务院批准的有关规定执行，没有规定</tspan><tspan x="238" dy="16.7">的由当事人双方协商确定;</tspan></text></g>
<g id="l-n2"><rect class="bc" x="231" y="2587" width="271" height="129" rx="5"/><text class="t tc" x="238" y="2606"><tspan x="238">标准有国家标准GB、部颁标准、企业标准QB</tspan><tspan x="238" dy="16.7">。如果要填写，须有标准代号、编号和标准名</tspan><tspan x="238" dy="16.7">称。一般的购销合同，多数泛泛约定为国家标</tspan><tspan x="238" dy="16.7">准。如果对于特定产品，或对产品质量有特殊</tspan><tspan x="238" dy="16.7">要求的，必须具体约定为哪个标准，或商定的</tspan><tspan x="238" dy="16.7">条件、样品(共同封存样品，分别保管)、补充</tspan><tspan x="238" dy="16.7">技术要求。</tspan></text></g>
<g id="l-n3"><rect class="bc" x="231" y="2744" width="271" height="62" rx="5"/><text class="t tc" x="238" y="2763"><tspan x="238">约定供方对其所提供产品的质量保证期限，在</tspan><tspan x="238" dy="16.7">保证期内，发现质量问题，应承担违约责任,</tspan><tspan x="238" dy="16.7">但排除需方的非正常使用导致。</tspan></text></g>
<g id="l-L3"><rect class="bc" x="648" y="2933" width="150" height="30" rx="5"/><text class="t tc" x="655" y="2953">三、交(提)货地点、方式</text></g>
<g id="l-o1"><rect class="bc" x="352" y="2867" width="271" height="46" rx="5"/><text class="t tc" x="359" y="2886"><tspan x="359">1、交货地点，涉及“标的物交付”，也是风</tspan><tspan x="359" dy="16.7">险转移的分界点。</tspan></text></g>
<g id="l-o1a"><rect class="bc" x="56" y="2834" width="270" height="112" rx="5"/><text class="t tc" x="63" y="2853"><tspan x="63">交货地点，作为合同履行地，它涉及合同纠纷</tspan><tspan x="63" dy="16.7">的司法管辖权。当约定的交货地点与实际交货</tspan><tspan x="63" dy="16.7">地点不一致时，以实际交货地为合同履行地。</tspan><tspan x="63" dy="16.7">如果双方约定了合同履行地点，则货物到达地</tspan><tspan x="63" dy="16.7">、到站地、验收地、安装调试地等，均不应视</tspan><tspan x="63" dy="16.7">为合同履行地。</tspan></text></g>
<g id="l-o2"><rect class="bc" x="352" y="2974" width="271" height="62" rx="5"/><text class="t tc" x="359" y="2993"><tspan x="359">2、交货方式：工厂交货(提货)、目的站港交</tspan><tspan x="359" dy="16.7">货(送货)、货交承运人(代办运输)等等。对外</tspan><tspan x="359" dy="16.7">货易中，有专门的术语。</tspan></text></g>
<g id="l-L4"><rect class="bc" x="579" y="3148" width="219" height="29" rx="5"/><text class="t tc" x="586" y="3167">四、运输方式及到达站港和费用负担</text></g>
<g id="l-p1"><rect class="bc" x="284" y="3065" width="270" height="96" rx="5"/><text class="t tc" x="291" y="3084"><tspan x="291">1、运输方式一般由需方提出，也可协商确定</tspan><tspan x="291" dy="16.7">运输方式、运输路线、运输工具。总的要求是</tspan><tspan x="291" dy="16.7">运费低、运速快、货物安全到达。如果由于供</tspan><tspan x="291" dy="16.7">方原因，选择了不合理的运输路线和工具，由</tspan><tspan x="291" dy="16.7">此造成的损失，就承担赔偿责任。</tspan></text></g>
<g id="l-p2"><rect class="bc" x="284" y="3189" width="270" height="46" rx="5"/><text class="t tc" x="291" y="3208"><tspan x="291">2、运输费用的负担，应结合货物价款考虑，</tspan><tspan x="291" dy="16.7">要明确约定清楚，以避免争议。</tspan></text></g>
<g id="l-L5"><rect class="bc" x="644" y="3321" width="154" height="29" rx="5"/><text class="t tc" x="651" y="3340">五、合理损耗和计算方式</text></g>
<g id="l-q1"><rect class="bc" x="348" y="3263" width="272" height="62" rx="5"/><text class="t tc" x="355" y="3282"><tspan x="355">产品交货数量的正负尾差，合理磅差和在途自</tspan><tspan x="355" dy="16.7">然损耗量，对此规定及计算方法，有关主管部</tspan><tspan x="355" dy="16.7">门有详细规定，在合同中应明确注明。</tspan></text></g>
<g id="l-q2"><rect class="bc" x="348" y="3355" width="272" height="46" rx="5"/><text class="t tc" x="355" y="3374"><tspan x="355">我们的实践中，一般不允许有量差，按实际收</tspan><tspan x="355" dy="16.7">货量结算。</tspan></text></g>
<g id="l-L6"><rect class="bc" x="579" y="3619" width="219" height="29" rx="5"/><text class="t tc" x="586" y="3638">六、包装标准、包装物的供应和回收</text></g>
<g id="l-r1"><rect class="bc" x="284" y="3429" width="270" height="129" rx="5"/><text class="t tc" x="291" y="3448"><tspan x="291">包装是一切有形产品生产过程中不可缺少的重</tspan><tspan x="291" dy="16.7">要组成部分,包装不善则会使商品变质和损坏,</tspan><tspan x="291" dy="16.7">失去商品本身所具有的价值和使用价值,而高</tspan><tspan x="291" dy="16.7">质量的包装不仅能有效地保护商品,而且能提</tspan><tspan x="291" dy="16.7">高商品的附加值,增强商品本身的竞争力。而</tspan><tspan x="291" dy="16.7">讲质量,首先要讲标准,标准化是提高产品质量</tspan><tspan x="291" dy="16.7">的重要保证。</tspan></text></g>
<g id="l-r2"><rect class="bc" x="284" y="3586" width="270" height="62" rx="5"/><text class="t tc" x="291" y="3605"><tspan x="291">1、产品包装标准：按国家标准或专业标准执</tspan><tspan x="291" dy="16.7">行。没有通用方式的，也没有约定的，供方应</tspan><tspan x="291" dy="16.7">当采用足以保护标的物的包装方式。</tspan></text></g>
<g id="l-r3"><rect class="bc" x="284" y="3676" width="270" height="46" rx="5"/><text class="t tc" x="291" y="3695"><tspan x="291">2、包装物供应，除国家规定由需方供应的以</tspan><tspan x="291" dy="16.7">外，应由供方供应，也可合同约定。</tspan></text></g>
<g id="l-r4"><rect class="bc" x="284" y="3750" width="270" height="46" rx="5"/><text class="t tc" x="291" y="3769"><tspan x="291">3、包装物回收：由合同约定，并约定回收费</tspan><tspan x="291" dy="16.7">用。如，油桶、氧气瓶等。</tspan></text></g>
<g id="l-L7"><rect class="bc" x="567" y="3907" width="231" height="28" rx="5"/><text class="t tc" x="574" y="3926">七、验收标准、方法和提出异议的期限</text></g>
<g id="l-s1"><rect class="bc" x="270" y="3825" width="271" height="46" rx="5"/><text class="t tc" x="277" y="3844"><tspan x="277">1、验收手段：全面检验、抽样检验、理论计</tspan><tspan x="277" dy="16.7">算、实际过磅。</tspan></text></g>
<g id="l-s2"><rect class="bc" x="270" y="3899" width="271" height="46" rx="5"/><text class="t tc" x="277" y="3918"><tspan x="277">2、验收标准：国家标准，行业标准、企业标</tspan><tspan x="277" dy="16.7">准、约定标准。</tspan></text></g>
<g id="l-s3"><rect class="bc" x="270" y="3973" width="271" height="46" rx="5"/><text class="t tc" x="277" y="3992"><tspan x="277">3、验收时间：约定多少天内应验收完毕，不</tspan><tspan x="277" dy="16.7">同于提出异议的期限。</tspan></text></g>

<g id="l-tongzhi"><rect class="Lm" x="750" y="4223" width="341" height="80" rx="40"/><text class="h" x="791" y="4247"><tspan x="791">所有的通知及其他通讯往来在下列</tspan><tspan x="791" dy="21.5">首先发生的日期应被视为已正式送</tspan><tspan x="791" dy="21.5">达：</tspan></text></g>
<g id="l-u1"><rect class="bm" x="543" y="4048" width="182" height="27" rx="5"/><text class="t" x="550" y="4066">1)如专人送达，则为收到之日;</text></g>
<g id="l-u2"><rect class="bm" x="530" y="4105" width="195" height="27" rx="5"/><text class="t" x="537" y="4123">2)如为传真，则为回传确认之时;</text></g>
<g id="l-u3"><rect class="bm" x="455" y="4162" width="270" height="46" rx="5"/><text class="t" x="462" y="4181"><tspan x="462">3)如采取邮寄，则为寄出之日后五天，以邮寄</tspan><tspan x="462" dy="16.7">凭证为准;</tspan></text></g>
<g id="l-u4"><rect class="bm" x="455" y="4236" width="270" height="79" rx="5"/><text class="t" x="462" y="4255"><tspan x="462">4)如由快递传送，即为快递寄出凭证后的3天;</tspan><tspan x="462" dy="16.7">邮寄的瑕疵，如何证明邮寄的内容是关键。邮</tspan><tspan x="462" dy="16.7">寄人员确认，公证送达。还可以约定登报公告</tspan><tspan x="462" dy="16.7">送达。</tspan></text></g>
<g id="l-u4a"><rect class="bm" x="158" y="4236" width="271" height="79" rx="5"/><text class="t" x="165" y="4255"><tspan x="165">如果送达地点需要变更的，一方将于变更后的</tspan><tspan x="165" dy="16.7">次日用书面形式通知对方，否则对方按上述确</tspan><tspan x="165" dy="16.7">认的地点所送达的文书，不论是否收到，均视</tspan><tspan x="165" dy="16.7">为送达。</tspan></text></g>
<g id="l-u5"><rect class="bm" x="455" y="4343" width="270" height="46" rx="5"/><text class="t" x="462" y="4362"><tspan x="462">3、 合同份数、生效条件：几式几份?签字盖</tspan><tspan x="462" dy="16.7">章生效?或附条件生效?等</tspan></text></g>
<g id="l-u6"><rect class="bm" x="455" y="4417" width="270" height="96" rx="5"/><text class="t" x="462" y="4436"><tspan x="462">4、其它约定：本合同为双方的完整协议，以</tspan><tspan x="462" dy="16.7">前协议双方或其代理人就本协议适用或涉及的</tspan><tspan x="462" dy="16.7">任何事项或事物所作的一切陈述、谈判、信函</tspan><tspan x="462" dy="16.7">、承诺、协议、协商和合同，无论是书面的还</tspan><tspan x="462" dy="16.7">是口头的，均作废。</tspan></text></g>
<g id="l-u6a"><rect class="bm" x="353" y="4450" width="76" height="28" rx="5"/><text class="t" x="360" y="4469">十四、落款</text></g>
<g id="l-u6b"><rect class="bm" x="56" y="4433" width="270" height="62" rx="5"/><text class="t" x="63" y="4452"><tspan x="63">应包含：单位全称、详细住址、邮政编号、法</tspan><tspan x="63" dy="16.7">定代表人、代理人、联系电话;开户银行、帐</tspan><tspan x="63" dy="16.7">号;合同签订日期。</tspan></text></g>
</g>
</svg>
